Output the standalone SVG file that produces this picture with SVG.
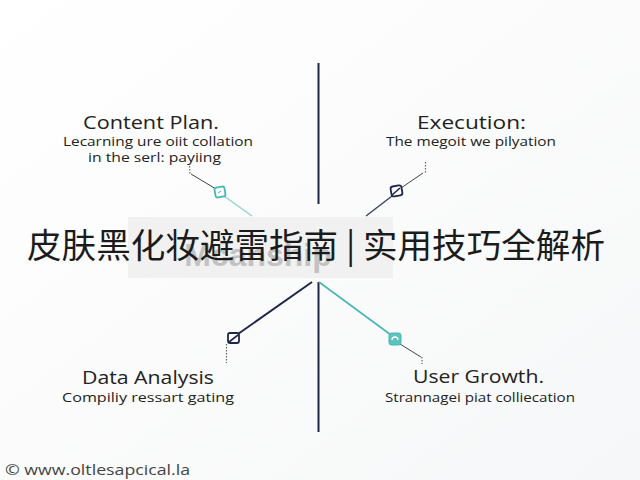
<svg xmlns="http://www.w3.org/2000/svg" width="640" height="480" viewBox="0 0 640 480">
<defs>
<style>
.h{font-family:"Open Sans","Noto Sans","Liberation Sans",sans-serif;font-size:18px;fill:#222;text-anchor:middle}
.s{font-family:"Open Sans","Noto Sans","Liberation Sans",sans-serif;font-size:12px;fill:#222;text-anchor:middle}
.dk{stroke:#1e2747;stroke-width:2;fill:none}
.tl{stroke:#45b8b2;stroke-width:1.6;fill:none}
.dot{stroke:#666;stroke-width:1.2;stroke-dasharray:1.5 1.5;fill:none}
.thin{stroke:#444;stroke-width:1;fill:none}
.bx{stroke-width:1.8;fill:#fff}
</style>
<linearGradient id="bg" x1="0" y1="0" x2="1" y2="1">
<stop offset="0" stop-color="#ffffff"/><stop offset="1" stop-color="#f6f7f8"/>
</linearGradient>
</defs>
<rect width="640" height="480" fill="url(#bg)"/>
<g id="connectors">
<line class="dk" x1="318.5" y1="63" x2="318.5" y2="204"/>
<line class="dk" x1="318.5" y1="282" x2="318.5" y2="432"/>
<line x1="224" y1="196" x2="252" y2="216" stroke="#8fd3cf" stroke-width="1.4"/>
<line class="thin" x1="216" y1="189" x2="191" y2="174"/>
<line class="dot" x1="189.5" y1="166" x2="190" y2="175"/>
<line x1="366" y1="216" x2="392" y2="196" stroke="#3a4260" stroke-width="1.4"/>
<line class="thin" x1="401" y1="188" x2="423" y2="173"/>
<line class="dot" x1="425.5" y1="162" x2="425.5" y2="173"/>
<line class="dk" x1="312" y1="282" x2="238" y2="334"/>
<line class="dot" x1="226.5" y1="344" x2="226.5" y2="363"/>
<line class="tl" x1="319" y1="282" x2="391" y2="335"/>
<line class="thin" x1="400" y1="344" x2="421" y2="357"/>
<line class="dot" x1="422" y1="357" x2="422" y2="364"/>
</g>
<g id="content-plan">
<rect class="bx" x="215" y="187" width="10" height="10" rx="2" stroke="#45b8b2" transform="rotate(-10 220 192)"/>
<path d="M218 193 l3 -2" stroke="#45b8b2" stroke-width="1"/>
<text class="h" x="151" y="129" textLength="136" lengthAdjust="spacingAndGlyphs">Content Plan.</text>
<text class="s" x="158" y="146" textLength="190" lengthAdjust="spacingAndGlyphs">Lecarning ure oiit collation</text>
<text class="s" x="154.5" y="162" textLength="133" lengthAdjust="spacingAndGlyphs">in the serl: payiing</text>
</g>
<g id="execution">
<rect class="bx" x="391" y="186" width="11" height="10" rx="2.5" stroke="#1e2747" transform="rotate(-10 396 191)"/>
<path d="M392 195 l8 -7" stroke="#1e2747" stroke-width="1.6"/>
<text class="h" x="471.5" y="129" textLength="109" lengthAdjust="spacingAndGlyphs">Execution:</text>
<text class="s" x="471" y="146" textLength="170" lengthAdjust="spacingAndGlyphs">The megoit we pilyation</text>
</g>
<g id="data-analysis">
<rect class="bx" x="228" y="333" width="11" height="10" rx="2" stroke="#1e2747"/>
<path d="M229 342 l9 -7" stroke="#1e2747" stroke-width="1.6"/>
<text class="h" x="148" y="384" textLength="132" lengthAdjust="spacingAndGlyphs">Data Analysis</text>
<text class="s" x="148" y="402" textLength="172" lengthAdjust="spacingAndGlyphs">Compiliy ressart gating</text>
</g>
<g id="user-growth">
<rect x="389" y="333" width="12" height="12" rx="2.5" fill="#5cc3bd" stroke="#45b8b2" stroke-width="1"/>
<path d="M392 340 a3 3 0 1 1 6 0" stroke="#fff" stroke-width="1.3" fill="none"/>
<text class="h" x="478.5" y="383" textLength="131" lengthAdjust="spacingAndGlyphs">User Growth.</text>
<text class="s" x="480" y="402" textLength="190" lengthAdjust="spacingAndGlyphs">Strannagei piat colliecation</text>
</g>
<g id="title">
<rect x="128" y="217" width="265" height="61" fill="#f1f1f1"/>
<text x="258" y="266" font-family="Liberation Sans,Arial,sans-serif" font-weight="bold" font-size="32" fill="#c2c2c2" text-anchor="middle">Mcanship</text>
<text x="316" y="258" font-family="'Noto Sans CJK SC','Noto Sans CJK JP',sans-serif" font-size="34" fill="#1b1b1b" text-anchor="middle" textLength="578" lengthAdjust="spacingAndGlyphs">皮肤黑化妆避雷指南 | 实用技巧全解析</text>
</g>
<text x="5" y="475" font-family="'Open Sans','Liberation Sans',sans-serif" font-size="14" fill="#444" textLength="185" lengthAdjust="spacingAndGlyphs">© www.oltlesapcical.la</text>
</svg>
